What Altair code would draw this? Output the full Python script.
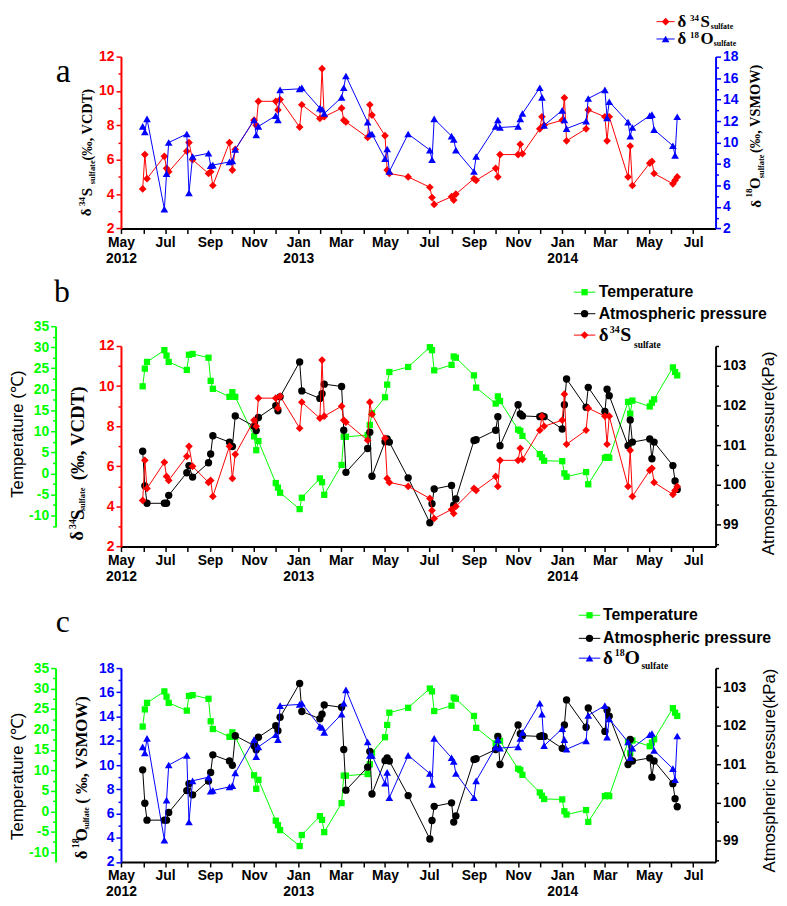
import altair as alt
import pandas as pd

# ---------------- data ----------------
sample_dates = [
    "2012-05-31", "2012-06-03", "2012-06-06", "2012-06-30", "2012-07-03", "2012-07-06",
    "2012-07-31", "2012-08-03", "2012-08-08", "2012-08-30", "2012-09-02", "2012-09-05",
    "2012-09-28", "2012-10-02", "2012-10-06", "2012-11-01", "2012-11-04", "2012-11-07",
    "2012-12-01", "2012-12-04", "2012-12-07", "2013-01-03", "2013-01-06", "2013-01-31",
    "2013-02-03", "2013-02-06", "2013-03-02", "2013-03-05", "2013-03-08", "2013-04-07",
    "2013-04-10", "2013-04-13", "2013-05-01", "2013-05-04", "2013-05-07", "2013-06-02",
    "2013-07-02", "2013-07-05", "2013-07-08", "2013-08-01", "2013-08-04", "2013-08-07",
    "2013-09-01", "2013-09-04", "2013-10-01", "2013-10-04", "2013-10-07", "2013-11-01",
    "2013-11-04", "2013-11-07", "2013-12-01", "2013-12-04", "2013-12-07", "2014-01-01",
    "2014-01-04", "2014-01-07", "2014-02-03", "2014-02-06", "2014-03-01", "2014-03-04",
    "2014-03-07", "2014-04-02", "2014-04-05", "2014-04-08", "2014-05-02", "2014-05-05",
    "2014-05-08", "2014-06-03", "2014-06-06", "2014-06-09",
]
d34S = [
    4.3, 6.3, 4.9, 6.2, 5.5, 5.3, 6.5, 7.0, 6.0, 5.2,
    5.3, 4.5, 7.0, 5.4, 6.6, 8.3, 8.0, 9.4, 9.4, 8.9,
    9.5, 7.9, 9.2, 8.4, 11.3, 8.5, 9.0, 8.3, 8.2, 7.3,
    9.2, 8.6, 7.4, 5.4, 5.2, 5.0, 4.4, 3.8, 3.4, 3.85,
    3.65, 4.0, 4.9, 4.8, 5.5, 5.0, 6.3, 6.3, 6.9, 6.35,
    7.8, 8.5, 8.0, 8.3, 9.6, 7.1, 7.8, 8.9, 8.5, 7.1,
    8.5, 5.0, 6.8, 4.5, 5.8, 5.9, 5.2, 4.6, 4.8, 5.0,
]
d18O = [
    11.5, 11.0, 12.2, 3.8, 7.1, 10.0, 10.8, 5.3, 8.7, 9.0,
    7.85, 7.9, 8.2, 8.3, 9.35, 12.1, 10.7, 11.5, 12.5, 12.1,
    14.9, 15.0, 15.1, 13.2, 13.1, 12.7, 14.2, 15.1, 16.2, 11.9,
    10.8, 10.8, 8.5, 9.4, 7.3, 10.8, 9.3, 8.4, 12.2, 10.6,
    10.3, 9.3, 7.3, 8.7, 11.5, 12.1, 11.4, 11.5, 12.2, 12.7,
    15.1, 14.2, 11.6, 13.0, 12.1, 11.3, 12.0, 14.1, 14.9, 12.3,
    13.8, 11.9, 10.6, 11.4, 12.5, 12.6, 11.2, 9.7, 8.8, 12.4,
]
temperature = [
    20.7, 24.9, 26.5, 29.3, 28.0, 26.5, 24.6, 28.2, 28.4, 27.5,
    22.0, 20.1, 18.2, 19.3, 18.2, 8.8, 5.5, 7.7, -2.3, -3.4,
    -4.6, -8.5, -5.8, -1.2, -2.1, -5.1, 2.0, 8.7, 8.7, 9.1,
    11.5, 14.3, 18.1, 21.1, 24.1, 25.3, 30.0, 29.3, 24.5, 25.8,
    27.8, 27.5, 23.3, 20.4, 16.6, 18.3, 17.2, 10.4, 10.1, 8.9,
    4.6, 3.8, 3.0, 2.9, 0.0, -0.8, 0.3, -2.6, 3.7, 3.9,
    3.7, 17.0, 14.2, 17.3, 15.9, 16.8, 17.6, 25.2, 24.1, 23.3,
]
pressure = [
    100.85, 99.98, 99.54, 99.54, 99.54, 99.74, 100.31, 100.49, 100.2, 100.56,
    100.78, 101.24, 101.08, 100.97, 101.74, 101.48, 101.37, 101.70, 102.0, 101.87,
    102.22, 103.1, 102.37, 102.18, 102.3, 102.54, 102.48, 101.38, 100.32, 100.92,
    101.33, 100.22, 101.09, 101.16, 101.08, 100.18, 99.05, 99.53, 99.9, 99.99,
    99.49, 99.65, 101.12, 101.14, 101.38, 101.72, 100.99, 102.02, 101.79, 101.74,
    101.72, 101.74, 101.72, 101.41, 102.02, 102.67, 101.96, 102.46, 101.85, 102.41,
    102.25, 100.99, 101.64, 101.08, 101.16, 100.66, 101.08, 100.49, 100.1, 99.89,
]

df = pd.DataFrame({
    "date": [d + "T00:00:00" for d in sample_dates],
    "d34S": d34S, "d18O": d18O, "temp": temperature, "press": pressure,
})
ONE = pd.DataFrame({"k": [0]})

RED, BLUE, GREEN, BLACK = "#ff0000", "#0000ff", "#00ff00", "#000000"
SANS, SERIF = "Liberation Sans", "Liberation Serif"
W = 600

# ---------------- axes ----------------
x_domain = [alt.DateTime(year=2012, month=5, date=1), alt.DateTime(year=2014, month=8, date=1)]
month_values = []
yy, mm = 2012, 5
while (yy, mm) <= (2014, 7):
    month_values.append(alt.DateTime(year=yy, month=mm, date=1))
    mm += 1
    if mm > 12:
        mm, yy = 1, yy + 1

X_LABEL = ("month(datum.value) % 2 == 1 ? '' : "
           "((month(datum.value) == 0 || (year(datum.value) == 2012 && month(datum.value) == 4)) ? "
           "[timeFormat(datum.value, '%b'), timeFormat(datum.value, '%Y')] : timeFormat(datum.value, '%b'))")


def xenc():
    return alt.X("date:T", title=None, scale=alt.Scale(domain=x_domain),
                 axis=alt.Axis(values=month_values, labelExpr=X_LABEL, grid=False,
                               domainColor=BLACK, domainWidth=2, tickColor=BLACK, tickWidth=1.5,
                               tickSize=5, labelColor=BLACK, labelFont=SANS, labelFontWeight="bold",
                               labelFontSize=14, labelPadding=2, labelLineHeight=16,
                               labelFlush=False, labelOverlap=False, labelBound=False))


def yaxis(color, values, major, orient, offset=0):
    return alt.Axis(orient=orient, offset=offset, values=values, title=None, grid=False,
                    labelExpr=f"({major}) ? '' + datum.value : ''",
                    domainColor=color, domainWidth=2, tickColor=color, tickWidth=1.5,
                    tickSize={"condition": {"test": major, "value": 5}, "value": 3},
                    labelColor=color, labelFont=SANS, labelFontWeight="bold", labelFontSize=14,
                    labelPadding=2, labelOverlap=False, labelBound=False)


def series(field, color, shape, size, scale, axis):
    return alt.Chart(df).mark_line(
        color=color, strokeWidth=1,
        point=alt.OverlayMarkDef(shape=shape, filled=True, size=size, color=color, opacity=1),
    ).encode(x=xenc(), y=alt.Y(f"{field}:Q", title=None, scale=scale, axis=axis))


def T(text, px, py, org, size, font=SERIF, weight="bold", angle=0, align="center",
      baseline="middle", color=BLACK):
    return alt.Chart(ONE).mark_text(
        text=text, font=font, fontSize=size, fontWeight=weight, angle=angle, align=align,
        baseline=baseline, color=color,
    ).encode(x=alt.value(round(px - org[0], 1)), y=alt.value(round(py - org[1], 1)))


def legend_sym(color, shape, size, x1, x2, py, org):
    rule = alt.Chart(ONE).mark_rule(color=color, strokeWidth=1).encode(
        x=alt.value(round(x1 - org[0], 1)), x2=alt.value(round(x2 - org[0], 1)),
        y=alt.value(round(py - org[1], 1)))
    pt = alt.Chart(ONE).mark_point(shape=shape, filled=True, size=size, color=color, opacity=1).encode(
        x=alt.value(round((x1 + x2) / 2 - org[0], 1)), y=alt.value(round(py - org[1], 1)))
    return [rule, pt]


def rot(pieces, org):
    return [T(text, px, py, org, size, angle=270) for text, px, py, size in pieces]


def rich(pieces, org):
    return [T(text, px, py, org, size, align="left") for text, px, py, size in pieces]


d_ticks = list(range(2, 13))
o_ticks = list(range(2, 19))
t_ticks_b = [v * 2.5 for v in range(-5, 15)]
t_ticks_c = [v * 2.5 for v in range(-4, 15)]
p_ticks = [98.5 + 0.5 * i for i in range(11)]

# ---------------- panel a ----------------
A = (121.3, 54.3)
HA = 173.4
LA1, LA2 = 19, 36.5   # legend rows
layers_a = [
    series("d34S", RED, "diamond", 60, alt.Scale(domain=[2, 12], nice=False, zero=False),
           yaxis(RED, d_ticks, "datum.value % 2 == 0", "left")),
    series("d18O", BLUE, "triangle-up", 60, alt.Scale(domain=[2, 18], nice=False, zero=False),
           yaxis(BLUE, o_ticks, "datum.value % 2 == 0", "right")),
    T("a", 63, 80, A, 34, weight="normal", baseline="alphabetic"),
]
layers_a += rot([("δ", 86.5, 211.5, 15), ("34", 81.5, 200.5, 9), ("S", 87, 191, 15),
                 ("sulfate", 92.5, 171, 8.5), ("(‰, VCDT)", 88, 123, 14.5)], A)
layers_a += rot([("δ", 762, 203, 15), ("18", 755.5, 192, 9), ("O", 761.5, 182, 15),
                 ("sulfate", 767, 165, 8.5), ("(‰, VSMOW)", 762, 107, 14.5)], A)
layers_a += legend_sym(RED, "diamond", 60, 661.7, 680, LA1, A)
layers_a += rich([("δ", 683, LA1 + 0.5, 17), ("34", 695.5, LA1 - 4, 9), ("S", 706, LA1 + 0.5, 17),
                  ("sulfate", 716.5, LA1 + 5, 8)], A)
layers_a += legend_sym(BLUE, "triangle-up", 60, 661.7, 680, LA2, A)
layers_a += rich([("δ", 683, LA2 + 0.5, 17), ("18", 695.5, LA2 - 4, 9), ("O", 706, LA2 + 0.5, 17),
                  ("sulfate", 719.5, LA2 + 5, 8)], A)
panel_a = alt.layer(*layers_a).resolve_scale(y="independent").properties(width=W, height=HA)

# ---------------- panel b ----------------
B = (121.3, 344.3)
HB = 202.4
layers_b = [
    series("temp", GREEN, "square", 40,
           alt.Scale(domain=[-12.7, 35], range=[HB - 20, -20], nice=False, zero=False),
           yaxis(GREEN, t_ticks_b, "datum.value % 5 == 0", "left", 66)),
    series("press", BLACK, "circle", 55, alt.Scale(domain=[98.45, 103.5], nice=False, zero=False),
           yaxis(BLACK, p_ticks, "datum.value % 1 == 0", "right")),
    series("d34S", RED, "diamond", 60, alt.Scale(domain=[2, 12], nice=False, zero=False),
           yaxis(RED, d_ticks, "datum.value % 2 == 0", "left")),
    T("b", 61.7, 300, B, 32, weight="normal", baseline="alphabetic"),
    T("Temperature (℃)", 17, 433.3, B, 17, font=SANS, weight="normal", angle=270),
    T("Atmospheric pressure(kPa)", 775, 452.5, B, 17, font=SANS, weight="normal", angle=270),
]
layers_b += rot([("δ", 77, 536, 19), ("34", 72.5, 524, 10), ("S", 77.5, 514.5, 19),
                 ("sulfate", 82, 499, 8.5), ("(‰, VCDT)", 77.5, 432.5, 19)], B)
layers_b += legend_sym(GREEN, "square", 40, 578.3, 600, 290, B)
layers_b.append(T("Temperature", 603.3, 290, B, 16, font=SANS, align="left"))
layers_b += legend_sym(BLACK, "circle", 55, 578.3, 600, 311.7, B)
layers_b.append(T("Atmospheric pressure", 603.3, 311.7, B, 16, font=SANS, align="left"))
layers_b += legend_sym(RED, "diamond", 60, 578.3, 600, 333.3, B)
layers_b += rich([("δ", 603.3, 333.5, 19), ("34", 614.5, 328.3, 10), ("S", 625, 333.5, 20),
                  ("sulfate", 639, 343.3, 9.5)], B)
panel_b = alt.layer(*layers_b).resolve_scale(y="independent").properties(width=W, height=HB)

# ---------------- panel c ----------------
C = (121.3, 668.3)
HC = 195.7
layers_c = [
    series("temp", GREEN, "square", 40, alt.Scale(domain=[-12.4, 35], nice=False, zero=False),
           yaxis(GREEN, t_ticks_c, "datum.value % 5 == 0", "left", 66)),
    series("press", BLACK, "circle", 55, alt.Scale(domain=[98.45, 103.5], nice=False, zero=False),
           yaxis(BLACK, p_ticks, "datum.value % 1 == 0", "right")),
    series("d18O", BLUE, "triangle-up", 60, alt.Scale(domain=[2, 18], nice=False, zero=False),
           yaxis(BLUE, o_ticks, "datum.value % 2 == 0", "left")),
    T("c", 62.5, 631.7, C, 32, weight="normal", baseline="alphabetic"),
    T("Temperature (℃)", 17, 777.5, C, 17, font=SANS, weight="normal", angle=270),
    T("Atmospheric pressure(kPa)", 776.5, 771.7, C, 17, font=SANS, weight="normal", angle=270),
]
layers_c += rot([("δ", 81.7, 856.7, 17), ("18", 75.8, 845, 10), ("O", 81.7, 836.5, 17),
                 ("sulfate", 86.7, 820, 8), ("( ‰, VSMOW)", 81.7, 751, 17)], C)
layers_c += legend_sym(GREEN, "square", 40, 583.3, 605, 615, C)
layers_c.append(T("Temperature", 607.7, 615, C, 16, font=SANS, align="left"))
layers_c += legend_sym(BLACK, "circle", 55, 583.3, 605, 638.3, C)
layers_c.append(T("Atmospheric pressure", 607.7, 638.3, C, 16, font=SANS, align="left"))
layers_c += legend_sym(BLUE, "triangle-up", 60, 583.3, 605, 658.3, C)
layers_c += rich([("δ", 607.7, 658.5, 19), ("18", 619.5, 653.3, 10), ("O", 629.5, 658.5, 20),
                  ("sulfate", 646.5, 666, 9.5)], C)
panel_c = alt.layer(*layers_c).resolve_scale(y="independent").properties(width=W, height=HC)

top_two = alt.vconcat(panel_a, panel_b, spacing=10)
chart = alt.vconcat(top_two, panel_c, spacing=21).properties(
    padding=0
).configure_view(stroke="transparent")

chart.save("out.html", embed_options={"renderer": "svg", "actions": False})
